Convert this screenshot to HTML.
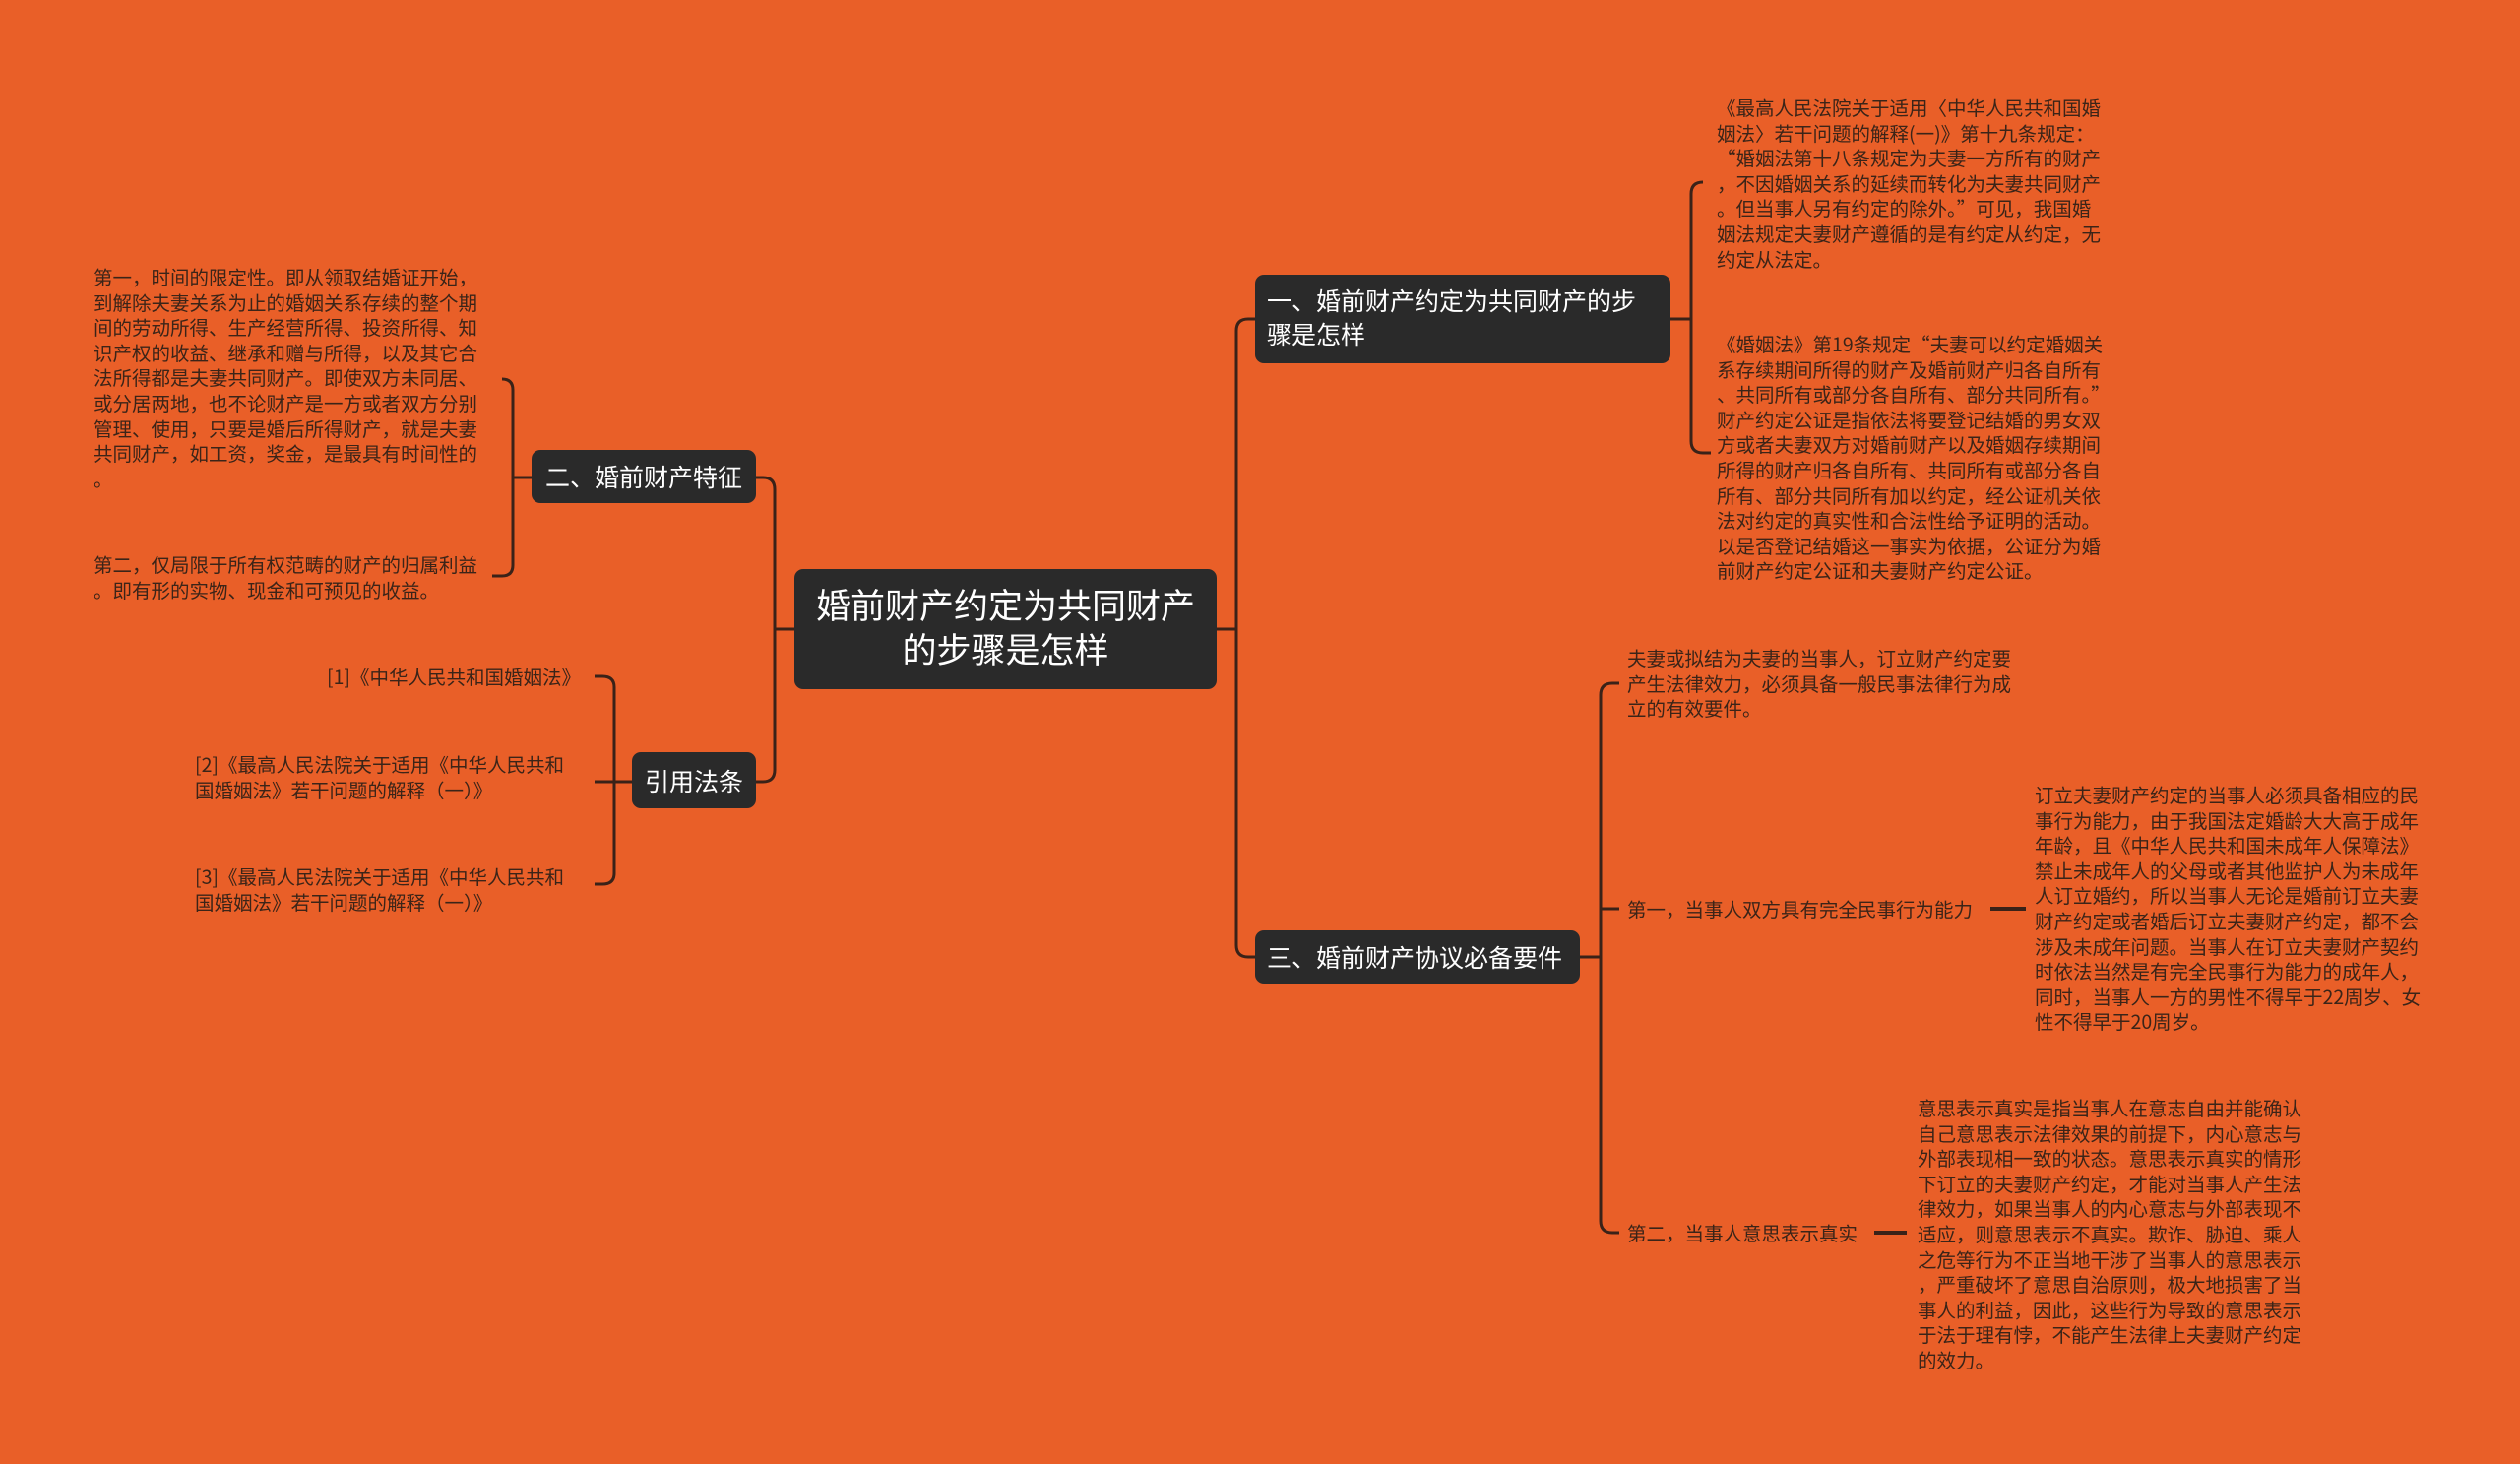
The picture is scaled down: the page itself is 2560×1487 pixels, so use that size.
<!DOCTYPE html>
<html><head><meta charset="utf-8"><style>
html,body{margin:0;padding:0}
body{width:2560px;height:1487px;background:#E95F28;position:relative;overflow:hidden;font-family:"Liberation Sans","Noto Sans CJK SC",sans-serif}
.n{position:absolute;background:#2a2a2a;color:#fff;border-radius:9px;box-sizing:border-box;display:flex;align-items:center}
.t{position:absolute;color:#3b2418;font-size:19.5px;line-height:25.6px;font-family:"Noto Sans CJK SC",sans-serif;line-break:anywhere;word-break:break-all}
svg{position:absolute;left:0;top:0}
</style></head><body>
<svg width="2560" height="1487" fill="none" stroke="#3a2218" stroke-width="3">
<path d="M1236 639 H1256"/>
<path d="M1275 324 H1268 Q1256 324 1256 336 V960 Q1256 972 1268 972 H1275"/>
<path d="M807 639 H787"/>
<path d="M768 485 H775 Q787 485 787 497 V782 Q787 794 775 794 H768"/>
<path d="M540 485 H521"/>
<path d="M510 385 Q521 385 521 396 V574 Q521 585 510 585 H500"/>
<path d="M642 794 H624"/>
<path d="M604 687 H612 Q624 687 624 698 V887 Q624 898 612 898 H604"/>
<path d="M604 794 H624"/>
<path d="M1697 324 H1718"/>
<path d="M1730 185 Q1718 185 1718 197 V448 Q1718 460 1730 460 H1738"/>
<path d="M1605 972 H1626"/>
<path d="M1645 694 H1638 Q1626 694 1626 706 V1240 Q1626 1252 1638 1252 H1645"/>
<path d="M1626 923 H1645"/>
<path d="M2022 923 H2058" stroke-width="4"/>
<path d="M1904 1252 H1937" stroke-width="4"/>
</svg>
<div class="n" style="left:807px;top:578px;width:429px;height:122px;font-size:35px;line-height:45px;justify-content:center;text-align:center">婚前财产约定为共同财产<br>的步骤是怎样</div>
<div class="n" style="left:1275px;top:279px;width:422px;height:90px;font-size:25px;line-height:34px;padding-left:12px">一、婚前财产约定为共同财产的步<br>骤是怎样</div>
<div class="n" style="left:1275px;top:945px;width:330px;height:54px;font-size:25px;padding-left:12px">三、婚前财产协议必备要件</div>
<div class="n" style="left:540px;top:457px;width:228px;height:54px;font-size:25px;justify-content:center">二、婚前财产特征</div>
<div class="n" style="left:642px;top:764px;width:126px;height:57px;font-size:25px;justify-content:center">引用法条</div>

<div class="t" style="left:95px;top:268px;width:393px">第一，时间的限定性。即从领取结婚证开始，到解除夫妻关系为止的婚姻关系存续的整个期间的劳动所得、生产经营所得、投资所得、知识产权的收益、继承和赠与所得，以及其它合法所得都是夫妻共同财产。即使双方未同居、或分居两地，也不论财产是一方或者双方分别管理、使用，只要是婚后所得财产，就是夫妻共同财产，如工资，奖金，是最具有时间性的。</div>
<div class="t" style="left:95px;top:560px;width:393px">第二，仅局限于所有权范畴的财产的归属利益。即有形的实物、现金和可预见的收益。</div>
<div class="t" style="left:300px;top:674px;width:290px;text-align:right">[1]《中华人民共和国婚姻法》</div>
<div class="t" style="left:198px;top:763px;width:385px">[2]《最高人民法院关于适用《中华人民共和国婚姻法》若干问题的解释（一）》</div>
<div class="t" style="left:198px;top:877px;width:385px">[3]《最高人民法院关于适用《中华人民共和国婚姻法》若干问题的解释（一）》</div>

<div class="t" style="left:1744px;top:96px;width:393px">《最高人民法院关于适用〈中华人民共和国婚姻法〉若干问题的解释(一)》第十九条规定：“婚姻法第十八条规定为夫妻一方所有的财产，不因婚姻关系的延续而转化为夫妻共同财产。但当事人另有约定的除外。”可见，我国婚姻法规定夫妻财产遵循的是有约定从约定，无约定从法定。</div>
<div class="t" style="left:1744px;top:336px;width:393px">《婚姻法》第19条规定“夫妻可以约定婚姻关系存续期间所得的财产及婚前财产归各自所有、共同所有或部分各自所有、部分共同所有。”财产约定公证是指依法将要登记结婚的男女双方或者夫妻双方对婚前财产以及婚姻存续期间所得的财产归各自所有、共同所有或部分各自所有、部分共同所有加以约定，经公证机关依法对约定的真实性和合法性给予证明的活动。以是否登记结婚这一事实为依据，公证分为婚前财产约定公证和夫妻财产约定公证。</div>
<div class="t" style="left:1653px;top:655px;width:393px">夫妻或拟结为夫妻的当事人，订立财产约定要产生法律效力，必须具备一般民事法律行为成立的有效要件。</div>
<div class="t" style="left:1653px;top:910px;width:380px;white-space:nowrap">第一，当事人双方具有完全民事行为能力</div>
<div class="t" style="left:2067px;top:794px;width:393px">订立夫妻财产约定的当事人必须具备相应的民事行为能力，由于我国法定婚龄大大高于成年年龄，且《中华人民共和国未成年人保障法》禁止未成年人的父母或者其他监护人为未成年人订立婚约，所以当事人无论是婚前订立夫妻财产约定或者婚后订立夫妻财产约定，都不会涉及未成年问题。当事人在订立夫妻财产契约时依法当然是有完全民事行为能力的成年人，同时，当事人一方的男性不得早于22周岁、女性不得早于20周岁。</div>
<div class="t" style="left:1653px;top:1239px;width:260px;white-space:nowrap">第二，当事人意思表示真实</div>
<div class="t" style="left:1948px;top:1112px;width:393px">意思表示真实是指当事人在意志自由并能确认自己意思表示法律效果的前提下，内心意志与外部表现相一致的状态。意思表示真实的情形下订立的夫妻财产约定，才能对当事人产生法律效力，如果当事人的内心意志与外部表现不适应，则意思表示不真实。欺诈、胁迫、乘人之危等行为不正当地干涉了当事人的意思表示，严重破坏了意思自治原则，极大地损害了当事人的利益，因此，这些行为导致的意思表示于法于理有悖，不能产生法律上夫妻财产约定的效力。</div>
</body></html>
